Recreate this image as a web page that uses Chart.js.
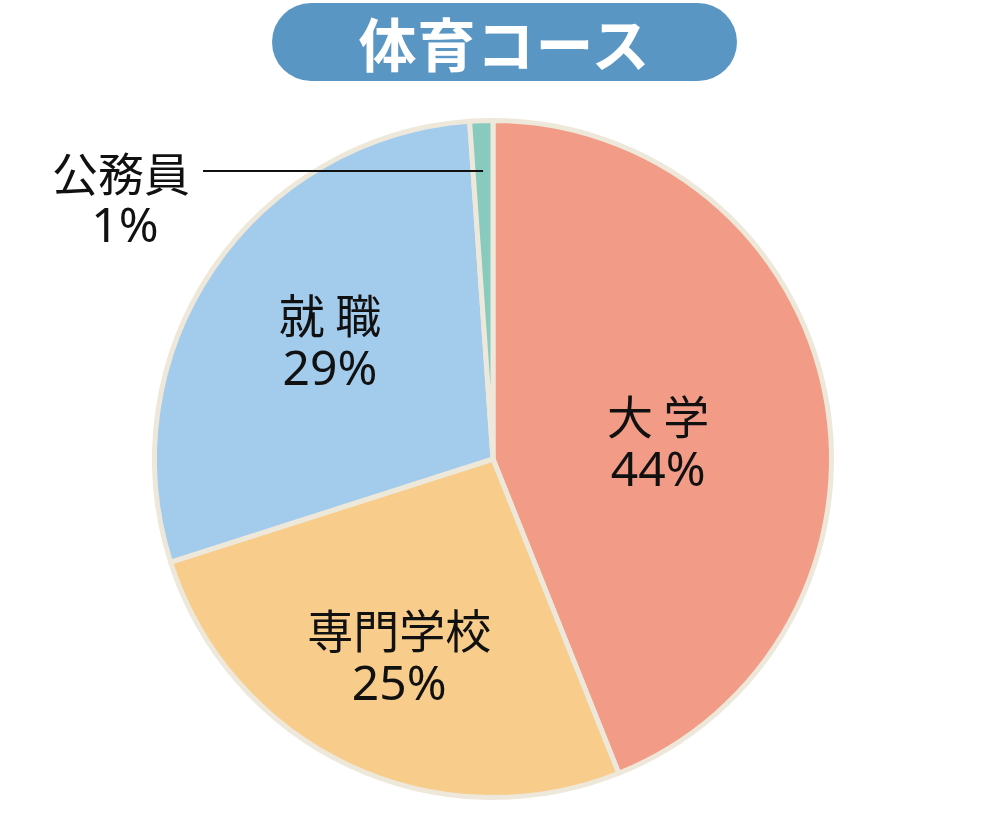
<!DOCTYPE html>
<html lang="ja">
<head>
<meta charset="utf-8">
<title>体育コース</title>
<script src="https://cdn.jsdelivr.net/npm/chart.js@4/dist/chart.umd.min.js"></script>
<style>
  html, body { margin: 0; padding: 0; background: #fff; }
  #wrap { position: relative; width: 989px; height: 827px; overflow: hidden; }
  #title {
    position: absolute; left: 272px; top: 3px; width: 465px; height: 78px;
    border-radius: 39px; background: #5a96c4; color: #fff;
    font: bold 58px "Noto Sans CJK JP", sans-serif; line-height: 78px;
    text-align: center; letter-spacing: 1px;
  }
  #chart { position: absolute; left: 0; top: 0; }
</style>
</head>
<body>
<div id="wrap">
  <canvas id="chart" width="989" height="827"></canvas>
  <div id="title">体育コース</div>
</div>
<script>
// slices go clockwise from 12 o'clock
const categories = ['大学', '専門学校', '就職', '公務員'];
const labelNames = ['大 学', '専門学校', '就 職', '公務員'];
const shares = [43.9, 26.1, 28.8, 1.1];
const percentLabels = ['44%', '25%', '29%', '1%'];
const sliceColors = ['#f29c87', '#f8cc8b', '#a2cbec', '#88cbbe'];

// where each label sits: fraction of radius + angle nudge (rad); null = outside with leader
const labelPlace = [[0.49, 0.1], [0.65, 0], [0.59, 0.02], null];

const nameFont = '46px "Noto Sans CJK JP", sans-serif';
const pctFont = '48px "Noto Sans", "Noto Sans CJK JP", sans-serif';

const pieLabels = {
  id: 'pieLabels',
  afterDatasetsDraw(chart) {
    const { ctx } = chart;
    const arcs = chart.getDatasetMeta(0).data;
    ctx.save();
    ctx.fillStyle = '#111';
    ctx.textAlign = 'center';
    ctx.textBaseline = 'middle';
    arcs.forEach((arc, i) => {
      const { x, y, startAngle, endAngle, outerRadius } = arc.getProps(
        ['x', 'y', 'startAngle', 'endAngle', 'outerRadius'], true);
      const mid = (startAngle + endAngle) / 2;
      const place = labelPlace[i];
      if (place) {
        const a = mid + place[1];
        const lx = x + Math.cos(a) * outerRadius * place[0];
        const ly = y + Math.sin(a) * outerRadius * place[0];
        ctx.font = nameFont;
        ctx.fillText(labelNames[i], lx, ly - 28);
        ctx.font = pctFont;
        ctx.fillText(percentLabels[i], lx, ly + 28);
      } else {
        // leader line from inside the thin slice out to the left
        const r = outerRadius * 0.85;
        const px = x + Math.cos(mid) * r;
        const py = Math.round(y + Math.sin(mid) * r);
        const endX = 203;
        ctx.strokeStyle = '#111';
        ctx.lineWidth = 2;
        ctx.beginPath();
        ctx.moveTo(px, py);
        ctx.lineTo(endX, py);
        ctx.stroke();
        ctx.font = nameFont;
        ctx.fillText(labelNames[i], endX - 82, py + 3);
        ctx.font = pctFont;
        ctx.fillText(percentLabels[i], endX - 78, py + 57);
      }
    });
    ctx.restore();
  }
};

new Chart(document.getElementById('chart'), {
  type: 'pie',
  data: {
    labels: categories,
    datasets: [{
      data: shares,
      backgroundColor: sliceColors,
      borderColor: '#eee8da',
      borderWidth: 5
    }]
  },
  options: {
    responsive: false,
    animation: false,
    layout: { padding: { left: 152, right: 155, top: 118, bottom: 27 } },
    plugins: {
      legend: { display: false },
      tooltip: { enabled: false }
    }
  },
  plugins: [pieLabels]
});
</script>
</body>
</html>
